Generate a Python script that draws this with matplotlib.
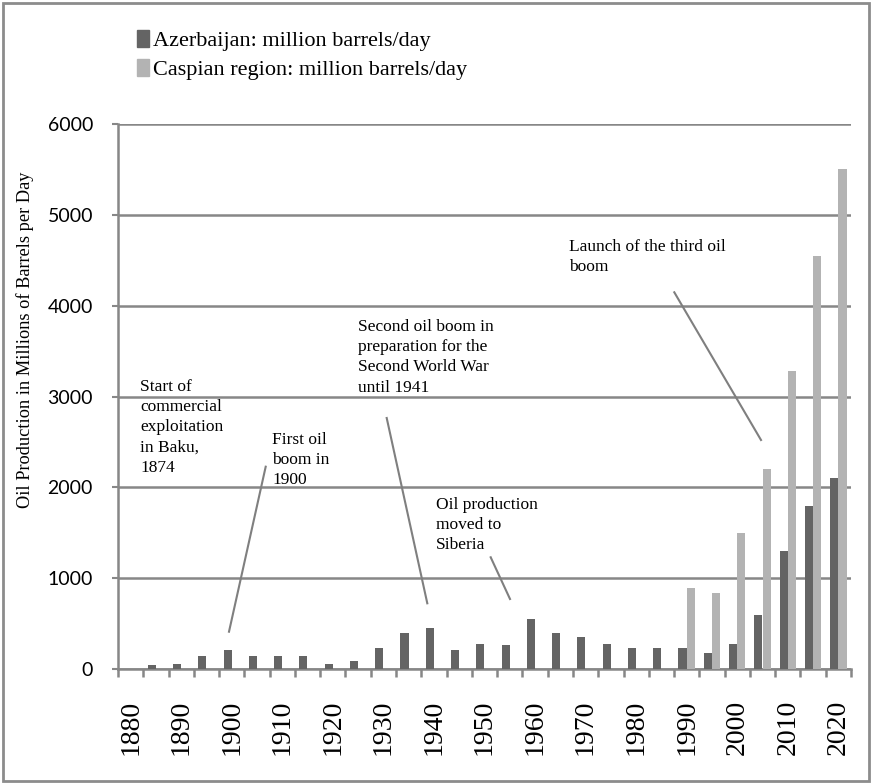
import matplotlib
matplotlib.use("Agg")
import matplotlib.pyplot as plt
from matplotlib.patches import Patch, Rectangle
import numpy as np

years = list(range(1880, 2021, 5))
azerbaijan = [0, 40, 60, 140, 210, 140, 140, 140, 60, 90,
              230, 400, 450, 210, 280, 260, 550, 400, 350, 280,
              230, 230, 230, 180, 280, 600, 1300, 1790, 2100]
caspian = [0, 0, 0, 0, 0, 0, 0, 0, 0, 0,
           0, 0, 0, 0, 0, 0, 0, 0, 0, 0,
           0, 0, 890, 840, 1500, 2200, 3280, 4550, 5500]
tick_years = list(range(1880, 2021, 10))

serif = "Liberation Serif"
dark = "#646464"
light = "#b3b3b3"
grid_c = "#878787"

fig = plt.figure(figsize=(8.72, 7.84), dpi=100)
ax = fig.add_axes([118/872, 1-669/784, (851-118)/872, (669-124)/784])

x = np.arange(len(years))
w = 0.32
ax.bar(x - 0.165, azerbaijan, w, color=dark, zorder=3)
ax.bar(x + 0.165, caspian, w, color=light, zorder=3)

ax.set_xlim(-0.5, len(years) - 0.5)
ax.set_ylim(0, 6000)
ax.set_yticks(range(0, 6001, 1000))
ax.yaxis.grid(True, color=grid_c, linewidth=1.8, zorder=0)
ax.set_axisbelow(True)

ax.set_xticks([years.index(t) for t in tick_years])
ax.set_xticklabels([str(t) for t in tick_years], rotation=90, fontfamily=serif,
                   fontsize=20, va="top", ha="center")
ax.set_xticks(np.arange(-0.5, len(years)), minor=True)
ax.tick_params(axis="x", which="major", length=0, pad=22)
ax.tick_params(axis="x", which="minor", length=6, width=1.8, color=grid_c, direction="out")
ax.tick_params(axis="y", length=4, width=1.5, color=grid_c, pad=14, labelsize=14)
for lab in ax.get_yticklabels():
    lab.set_fontfamily("Lato")

for s in ["top", "right"]:
    ax.spines[s].set_visible(False)
for s in ["left", "bottom"]:
    ax.spines[s].set_color(grid_c)
    ax.spines[s].set_linewidth(1.8)

fig.text(25/872, 1-340/784, "Oil Production in Millions of Barrels per Day",
         rotation=90, va="center", ha="center", fontfamily=serif, fontsize=13.2)

# annotations placed in pixel coords of the figure
def px(xp, yp):
    return xp/872, 1-yp/784

ann_kw = dict(fontfamily=serif, fontsize=12.5, va="top", ha="left", linespacing=1.35)
fig.text(*px(140, 379), "Start of\ncommercial\nexploitation\nin Baku,\n1874", **ann_kw)
fig.text(*px(272, 432), "First oil\nboom in\n1900", **ann_kw)
fig.text(*px(358, 319), "Second oil boom in\npreparation for the\nSecond World War\nuntil 1941", **ann_kw)
fig.text(*px(436, 497), "Oil production\nmoved to\nSiberia", **ann_kw)
fig.text(*px(569, 239), "Launch of the third oil\nboom", **ann_kw)

lines = [((265.7, 466.7), (229, 631.7)),
         ((386.7, 418), (427.3, 603.3)),
         ((490.7, 557.3), (510, 599)),
         ((674.3, 292.3), (761, 440))]
for (x0, y0), (x1, y1) in lines:
    fig.add_artist(plt.Line2D([x0/872, x1/872], [1-y0/784, 1-y1/784],
                              color="#7f7f7f", linewidth=1.5))

handles = [Patch(color=dark, label="Azerbaijan: million barrels/day"),
           Patch(color=light, label="Caspian region: million barrels/day")]
fig.legend(handles=handles, loc="upper left", bbox_to_anchor=px(137, 30),
           frameon=False, prop={"family": serif, "size": 16},
           handlelength=0.55, handleheight=0.8, handletextpad=0.15,
           labelspacing=0.35, borderpad=0, borderaxespad=0)

fig.add_artist(Rectangle((3/872, 3/784), 866/872, 778/784, fill=False,
                         edgecolor="#8c8c8c", linewidth=2, transform=fig.transFigure))

fig.savefig("out.png", dpi=100)
